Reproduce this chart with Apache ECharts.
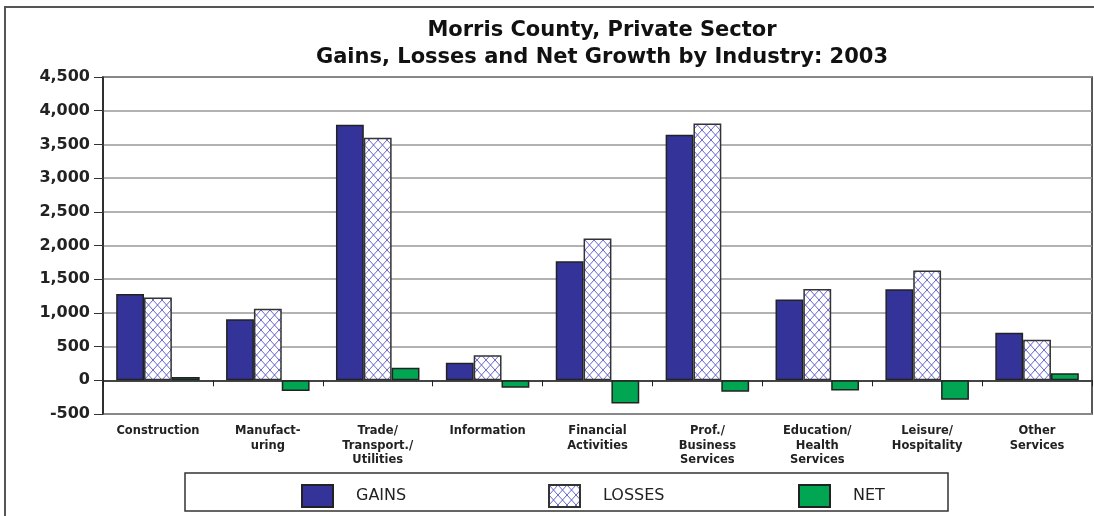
<!DOCTYPE html>
<html>
<head>
<meta charset="utf-8">
<script src="https://cdn.jsdelivr.net/npm/echarts@6/dist/echarts.min.js"></script>
<style>
html,body{margin:0;padding:0;background:#fff;}
#chart{width:1094px;height:516px;}
</style>
</head>
<body>
<div id="chart"></div>
<script>
const categories = ['Construction', 'Manufact-\nuring', 'Trade/\nTransport./\nUtilities', 'Information', 'Financial\nActivities', 'Prof./\nBusiness\nServices', 'Education/\nHealth\nServices', 'Leisure/\nHospitality', 'Other\nServices'];
const gains  = [1280, 905, 3790, 260, 1765, 3645, 1200, 1350, 705];
const losses = [1230, 1060, 3600, 370, 2105, 3810, 1355, 1630, 600];
const net    = [50, -160, 185, -110, -345, -170, -150, -290, 105];
const seriesNames = ['GAINS', 'LOSSES', 'NET'];
const titleLines = ['Morris County, Private Sector', 'Gains, Losses and Net Growth by Industry: 2003'];

const FONT = '"DejaVu Sans", "Noto Sans", sans-serif';

// crosshatch pattern for LOSSES
const pc = document.createElement('canvas');
pc.width = 9; pc.height = 10;
const ctx = pc.getContext('2d');
ctx.fillStyle = '#ffffff';
ctx.fillRect(0, 0, 9, 10);
ctx.strokeStyle = '#5555cc';
ctx.lineWidth = 0.9;
ctx.beginPath();
ctx.moveTo(0, 0); ctx.lineTo(9, 10);
ctx.moveTo(9, 0); ctx.lineTo(0, 10);
ctx.stroke();
const hatch = { image: pc, repeat: 'repeat' };

const chart = echarts.init(document.getElementById('chart'), null, { renderer: 'canvas' });

const legendBase = {
  top: 479, itemWidth: 31, itemHeight: 22, icon: 'rect',
  textStyle: { fontFamily: FONT, fontSize: 16, color: '#222', padding: [0, 0, 0, 18] }
};

chart.setOption({
  animation: false,
  backgroundColor: '#fff',
  title: {
    text: titleLines.join('\n'),
    left: 597, top: 12, textAlign: 'center',
    textStyle: { fontFamily: FONT, fontWeight: 'bold', fontSize: 21, lineHeight: 27, color: '#111' }
  },
  graphic: [
    { type: 'rect', shape: { x: 5, y: 7, width: 1200, height: 600 }, style: { fill: 'none', stroke: '#555', lineWidth: 2 }, silent: true },
    { type: 'rect', shape: { x: 185, y: 473, width: 763, height: 38 }, style: { fill: 'none', stroke: '#333', lineWidth: 1.5 }, silent: true }
  ],
  legend: [
    Object.assign({}, legendBase, { left: 296, data: [seriesNames[0]] }),
    Object.assign({}, legendBase, { left: 543, data: [seriesNames[1]] }),
    Object.assign({}, legendBase, { left: 793, data: [seriesNames[2]] })
  ],
  grid: {
    left: 103, right: 2, top: 77, bottom: 102,
    show: true, borderColor: '#222', borderWidth: 1.5, backgroundColor: 'transparent'
  },
  xAxis: [
    {
      type: 'category', data: categories, position: 'bottom',
      axisLine: { onZero: true, lineStyle: { color: '#222', width: 1.5 } },
      axisTick: { show: true, length: 6, lineStyle: { color: '#222', width: 1 } },
      axisLabel: { show: false }
    },
    {
      type: 'category', data: categories, position: 'bottom',
      axisLine: { show: false, onZero: false }, axisTick: { show: false },
      axisLabel: {
        interval: 0, margin: 10, fontFamily: FONT, fontWeight: 'bold', fontSize: 11.5,
        lineHeight: 14.5, color: '#222', verticalAlign: 'top'
      }
    }
  ],
  yAxis: {
    type: 'value', min: -500, max: 4500, interval: 500,
    axisLine: { show: true, lineStyle: { color: '#222', width: 1.5 } },
    axisTick: { show: true, length: 9, lineStyle: { color: '#333' } },
    splitLine: { lineStyle: { color: '#999', width: 1.5 } },
    axisLabel: {
      margin: 13, fontFamily: FONT, fontWeight: 'bold', fontSize: 16, color: '#222',
      formatter: v => v.toLocaleString('en-US')
    }
  },
  series: [
    { name: seriesNames[0], type: 'bar', data: gains, barGap: '0%', barCategoryGap: '24%',
      itemStyle: { color: '#333399', borderColor: '#222', borderWidth: 1.5 } },
    { name: seriesNames[1], type: 'bar', data: losses, barGap: '0%', barCategoryGap: '24%',
      itemStyle: { color: hatch, borderColor: '#333', borderWidth: 1.5 } },
    { name: seriesNames[2], type: 'bar', data: net, barGap: '0%', barCategoryGap: '24%',
      itemStyle: { color: '#00a651', borderColor: '#222', borderWidth: 1.5 } }
  ]
});
</script>
</body>
</html>
